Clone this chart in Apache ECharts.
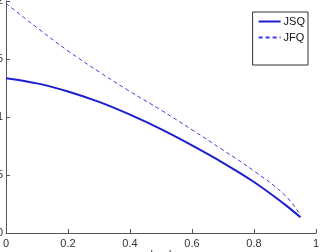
<!DOCTYPE html>
<html>
<head>
<meta charset="utf-8">
<script src="https://cdn.jsdelivr.net/npm/echarts@6/dist/echarts.min.js"></script>
<style>
  html, body { margin: 0; padding: 0; background: #fff; }
  #chart { width: 321px; height: 252px; }
</style>
</head>
<body>
<div id="chart"></div>
<script>
// load values
var load = [0, 0.1, 0.2, 0.3, 0.4, 0.5, 0.6, 0.7, 0.8, 0.9, 0.95];
var jsq = [1.335, 1.29, 1.22, 1.13, 1.02, 0.895, 0.755, 0.605, 0.44, 0.245, 0.135];
var jfq = [1.98, 1.77, 1.57, 1.39, 1.22, 1.06, 0.89, 0.715, 0.535, 0.325, 0.155];

function pairs(xs, ys) {
  return xs.map(function (x, i) { return [x, ys[i]]; });
}

var chart = echarts.init(document.getElementById('chart'));
var font = 'Liberation Sans, Arial, sans-serif';
var axisCol = '#555';

chart.setOption({
  animation: false,
  textStyle: { fontFamily: font },
  grid: { left: 6, right: 5, top: 1, bottom: 19, containLabel: false, outerBoundsMode: 'none' },
  legend: {
    right: 13, top: 12,
    orient: 'vertical',
    itemWidth: 22, itemHeight: 8, itemGap: 5,
    padding: [4, 3, 22, 5],
    borderColor: '#333', borderWidth: 1,
    itemStyle: { opacity: 0 },
    textStyle: { fontSize: 11, color: '#111', padding: [0, 0, 0, -2] },
    data: ['JSQ', 'JFQ']
  },
  xAxis: {
    type: 'value', min: 0, max: 1, interval: 0.2,
    name: 'load', nameLocation: 'middle', nameGap: 16, nameMoveOverlap: false,
    nameTextStyle: { fontSize: 11, color: '#333' },
    axisLine: { lineStyle: { color: axisCol } },
    axisTick: { inside: true, length: 4, lineStyle: { color: axisCol } },
    axisLabel: { fontSize: 11, color: '#333', margin: 5,
      formatter: function (v) { return String(+v.toFixed(1)); } },
    splitLine: { show: false }
  },
  yAxis: {
    type: 'value', min: 0, max: 2, interval: 0.5,
    axisLine: { show: true, lineStyle: { color: axisCol } },
    axisTick: { show: true, inside: true, length: 4, lineStyle: { color: axisCol } },
    axisLabel: { fontSize: 11, color: '#333', margin: 3 },
    splitLine: { show: false }
  },
  series: [
    {
      name: 'JSQ', type: 'line', data: pairs(load, jsq),
      smooth: 0.4, symbol: 'none',
      lineStyle: { color: '#1c1cd0', width: 2 },
      itemStyle: { color: '#1c1cd0' }
    },
    {
      name: 'JFQ', type: 'line', data: pairs(load, jfq),
      smooth: 0.4, symbol: 'none',
      lineStyle: { color: '#3c3ce0', width: 1, type: [4, 3] },
      itemStyle: { color: '#3c3ce0' }
    }
  ]
});
</script>
</body>
</html>
